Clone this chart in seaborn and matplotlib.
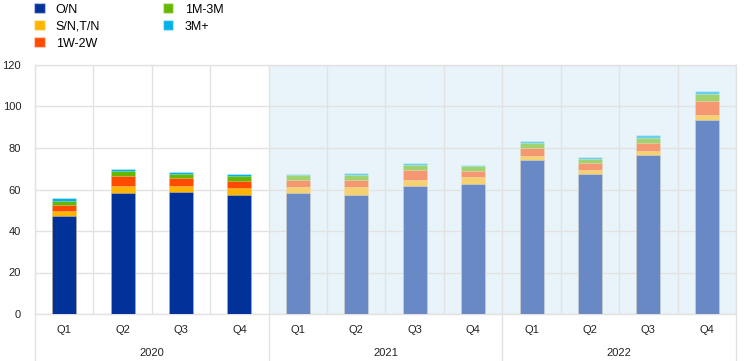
import matplotlib
matplotlib.use('Agg')
import matplotlib.pyplot as plt
import matplotlib.colors as mcolors
from matplotlib.patches import Patch
import seaborn as sns
import pandas as pd
import numpy as np

# Quarterly data 2020-2022 (EUR billions)
quarters = ['Q1', 'Q2', 'Q3', 'Q4'] * 3
years = ['2020', '2021', '2022']
series = ['O/N', 'S/N,T/N', '1W-2W', '1M-3M', '3M+']
on_vals = [47.1, 58.2, 58.6, 57.3, 58.2, 57.5, 61.5, 62.8, 74.4, 67.3, 76.5, 93.6]
sn_vals = [2.5, 3.5, 3.3, 3.6, 3.2, 3.5, 3.2, 3.2, 1.9, 2.1, 2.1, 2.4]
w_vals = [2.8, 5.0, 3.5, 3.3, 3.2, 3.6, 4.9, 3.1, 3.9, 3.5, 3.7, 6.7]
m_vals = [2.2, 2.2, 1.9, 2.3, 2.4, 2.5, 2.2, 2.4, 2.4, 2.0, 2.7, 3.5]
p_vals = [1.2, 0.8, 0.9, 0.8, 0.6, 0.8, 1.0, 0.3, 0.8, 0.8, 1.3, 1.3]
colors = ['#003299', '#FFB400', '#FF4B00', '#65B800', '#00B1EA']

shade = '#E8F4FA'
values = [on_vals, sn_vals, w_vals, m_vals, p_vals]
cum = np.cumsum(np.array(values), axis=0)
periods = [f'{y}{q}' for y in years for q in ['Q1', 'Q2', 'Q3', 'Q4']]


def fade(c, a=0.55):
    c1 = np.array(mcolors.to_rgb(c))
    c2 = np.array(mcolors.to_rgb(shade))
    return tuple(c1 * a + c2 * (1 - a))


plt.rcParams['font.family'] = ['Liberation Sans', 'DejaVu Sans']
fig = plt.figure(figsize=(7.44, 3.61), dpi=100)
ax = fig.add_axes([35 / 744, 47 / 361, 701 / 744, 249 / 361])

ax.axvspan(3.5, 11.5, color=shade, zorder=0, lw=0)

# draw tallest layer first so lower layers cover it
for i in range(len(series) - 1, -1, -1):
    df = pd.DataFrame({'period': periods, 'top': cum[i]})
    pal = {p: (colors[i] if p.startswith('2020') else fade(colors[i])) for p in periods}
    sns.barplot(data=df, x='period', y='top', hue='period', palette=pal,
                legend=False, width=0.41, saturation=1, ax=ax,
                edgecolor=(1, 1, 1, 0.35), linewidth=0.6, zorder=3)

ax.set_xlim(-0.5, 11.5)
ax.set_ylim(0, 120)
ax.set_yticks(range(0, 121, 20))
ax.set_xticks(range(12))
ax.set_xticklabels(quarters)
ax.set_xticks(np.arange(-0.5, 12, 1), minor=True)
ax.grid(False)
ax.grid(axis='y', which='major', color='#E2E2E2', lw=1, zorder=1)
ax.grid(axis='x', which='minor', color='#E2E2E2', lw=1, zorder=1)
ax.tick_params(axis='both', which='both', length=0, labelsize=8, colors='#222222')
ax.tick_params(axis='x', pad=8)
ax.tick_params(axis='y', pad=10)
ax.set_xlabel('')
ax.set_ylabel('')
for s in ax.spines.values():
    s.set_color('#E2E2E2')
    s.set_linewidth(1)

# year labels and separators
trans = ax.get_xaxis_transform()
for k, y in enumerate(years):
    ax.text(4 * k + 1.5, -0.155, y, transform=trans, ha='center', va='center',
            fontsize=8, color='#222222')
for xpos in [-0.5, 3.5, 7.5, 11.5]:
    ax.plot([xpos, xpos], [0, -0.19], transform=trans, color='#E2E2E2',
            lw=1, clip_on=False)

handles = [Patch(facecolor=c, edgecolor=(1, 1, 1, 0.4), label=s) for s, c in zip(series, colors)]
fig.legend(handles=handles, loc='upper left', bbox_to_anchor=(34 / 744, 0.991), ncol=2,
           frameon=False, fontsize=9, handlelength=0.85, handleheight=0.85,
           handletextpad=0.9, columnspacing=5.0, labelspacing=0.38,
           borderpad=0, borderaxespad=0)

fig.savefig('out.png', dpi=100)
